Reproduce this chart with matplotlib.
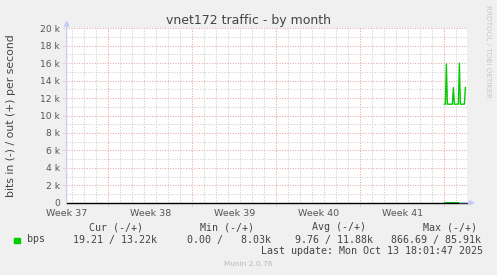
import numpy as np
import matplotlib
matplotlib.use("Agg")
import matplotlib.pyplot as plt
from matplotlib.patches import Rectangle

week_labels = ["Week 37", "Week 38", "Week 39", "Week 40", "Week 41"]
week_label_days = [0, 7, 14, 21, 28]
week_start_days = [3.47, 10.47, 17.47, 24.47, 31.47]

y_ticks = [0, 2000, 4000, 6000, 8000, 10000, 12000, 14000, 16000, 18000, 20000]
y_tick_labels = ["0", "2 k", "4 k", "6 k", "8 k", "10 k", "12 k", "14 k", "16 k", "18 k", "20 k"]

# Messwerte ab Montag Week 41, alle 2 Stunden
sample_start_day = 31.47
sample_step_day = 2 / 24
out_bps = [11300, 11300, 15900, 11300, 11300, 11300, 11300, 11300, 11300, 13200, 11300,
           11300, 11300, 11300, 11300, 16000, 11300, 11300, 11300, 11300, 11300, 13200]
in_bps = [9, 10, 12, 8, 9, 11, 10, 9, 8, 12, 10, 9, 10, 11, 9, 13, 10, 9, 8, 10, 12, 19]

legend_headers = ["Cur (-/+)", "Min (-/+)", "Avg (-/+)", "Max (-/+)"]
legend_values = ["19.21 / 13.22k", "0.00 /   8.03k", "9.76 / 11.88k", "866.69 / 85.91k"]
series_name = "bps"
last_update = "Last update: Mon Oct 13 18:01:47 2025"

# ===== Layout =====
W, H = 497, 275
BG = "#F0F0F0"
LINE = "#00CC00"
MGRID = "#EBA4A4"
GRID = "#CDCDCD"
AXIS = "#C4C8F8"
TEXT = "#555555"
x_max = 33.38

fig = plt.figure(figsize=(W / 100, H / 100), dpi=100, facecolor=BG)
ax = fig.add_axes([66.7 / W, 1 - 202.7 / H, 400.6 / W, 174.4 / H])
ax.set_facecolor("white")
ax.set_xlim(0, x_max)
ax.set_ylim(0, 20000)

# Gitter: grau = Tage / 1k, rot = Wochenanfang / 2k
for d in np.arange(0.47, x_max, 1.0):
    if not any(abs(d - w) < 0.01 for w in week_start_days):
        ax.axvline(d, color=GRID, lw=0.75, dashes=(1, 1.5), zorder=1)
for w in week_start_days:
    ax.axvline(w, ymin=-0.02, ymax=1, color=MGRID, lw=0.75, dashes=(1, 1.5),
               zorder=1, clip_on=False)
for v in range(1000, 20001, 2000):
    ax.axhline(v, color=GRID, lw=0.75, dashes=(1, 1.5), zorder=1)
for v in y_ticks[1:]:
    ax.axhline(v, xmin=-0.01, xmax=1, color=MGRID, lw=0.75, dashes=(1, 1.5),
               zorder=1, clip_on=False)

# Nulllinie + Serien
t = sample_start_day + sample_step_day * np.arange(len(out_bps))
ax.plot(t, -np.array(in_bps), color=LINE, lw=1.0, zorder=2, clip_on=False)
ax.axhline(0, color="black", lw=1.0, zorder=3, clip_on=False)
ax.plot(t, out_bps, color=LINE, lw=1.0, zorder=4)

# Achsen
for s in ax.spines.values():
    s.set_visible(False)
ax.annotate("", xy=(0, 1.045), xytext=(0, 0), xycoords="axes fraction",
            arrowprops=dict(arrowstyle="-|>", color=AXIS, lw=0.8,
                            mutation_scale=8, shrinkA=0, shrinkB=0))
ax.annotate("", xy=(1.019, 0), xytext=(0.98, 0), xycoords="axes fraction",
            arrowprops=dict(arrowstyle="-|>", color=AXIS, lw=0.8,
                            mutation_scale=8, shrinkA=0, shrinkB=0))

ax.set_xticks(week_label_days)
ax.set_xticklabels(week_labels)
ax.set_yticks(y_ticks)
ax.set_yticklabels(y_tick_labels)
ax.tick_params(axis="x", length=0, pad=4.5, labelsize=6.8, labelcolor=TEXT)
ax.tick_params(axis="y", length=0, pad=5.0, labelsize=6.6, labelcolor=TEXT)

# Texte
def fx(px):
    return px / W

def fy(py):
    return 1 - py / H

fig.text(fx(248.5), fy(24), "vnet172 traffic - by month", ha="center",
         va="baseline", fontsize=9, color="#444444")
fig.text(fx(10.8), fy(116), "bits in (-) / out (+) per second", rotation=90,
         ha="center", va="center", fontsize=7.8, color="#444444")
fig.text(fx(488), fy(5), "RRDTOOL / TOBI OETIKER", rotation=270, ha="center",
         va="top", fontsize=5.2, color="#C8C8C8")

mono = dict(family="DejaVu Sans Mono", fontsize=7.2, color="#444444", va="baseline")
for txt, x0 in zip(legend_headers, [89.3, 200, 311.7, 422.7]):
    fig.text(fx(x0), fy(230), txt, **mono)
fig.patches.append(Rectangle((fx(13.7), fy(242.7)), 6 / W, 4.6 / H,
                             transform=fig.transFigure, color=LINE))
fig.text(fx(26.7), fy(242.5), series_name, **mono)
for txt, x0 in zip(legend_values, [72.7, 186.7, 295, 391]):
    fig.text(fx(x0), fy(242.5), txt, **mono)
fig.text(fx(261), fy(254.5), last_update, **mono)
fig.text(fx(248), fy(264), "Munin 2.0.76", ha="center", va="center",
         fontsize=5.3, color="#B8B8B8")

fig.savefig("out.png", dpi=100, facecolor=BG)
